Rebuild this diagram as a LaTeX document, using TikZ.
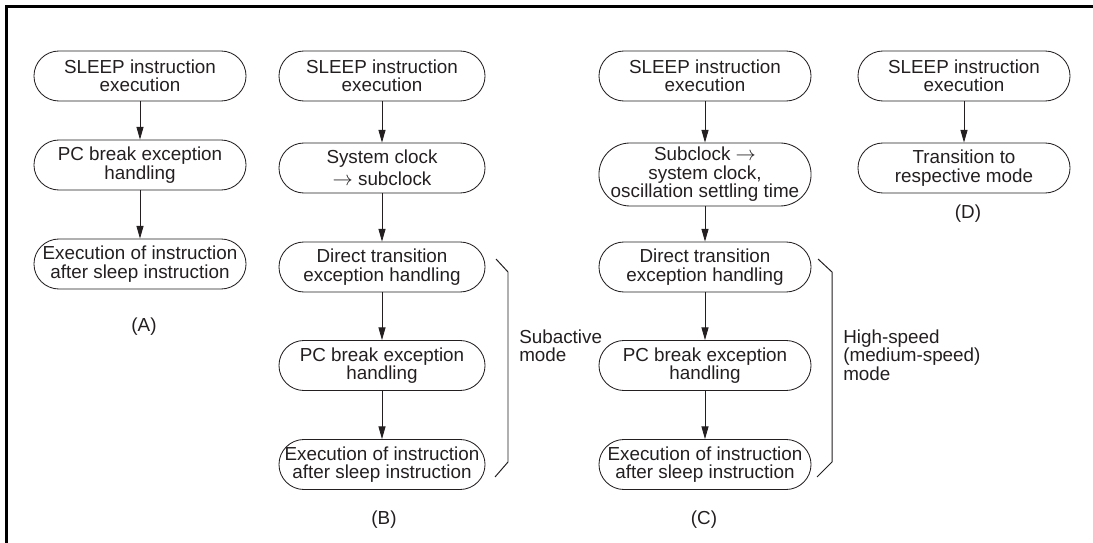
\documentclass[tikz,border=0pt]{standalone}
\usepackage{fontspec}
\setmainfont{Liberation Sans}
\usetikzlibrary{arrows.meta}
\usepackage{xcolor}
\definecolor{cInk}{HTML}{231F20}
\newcommand{\boxfont}{\fontsize{13.4}{13.1}\selectfont}
\tikzset{
  stage/.style={
    draw=cInk, line width=0.6pt, rounded corners=0.625cm,
    minimum width=5.3cm, minimum height=1.25cm,
    font=\boxfont, text=cInk, inner sep=0pt,
    align=center,
  },
  tallstage/.style={
    stage, rounded corners=0.78cm, minimum height=1.575cm,
  },
  modelabel/.style={
    font=\boxfont, text=cInk, align=left, anchor=west, inner sep=0pt,
  },
  caselabel/.style={font=\boxfont, text=cInk, inner sep=0pt},
  arw/.style={-{Triangle[length=9pt, width=5pt]}, line width=0.6pt, color=#1},
  arw/.default=cInk,
  bracketline/.style={draw=cInk, line width=0.7pt},
  frameline/.style={draw=black, line width=2.2pt},
}

\begin{document}
\begin{tikzpicture}[x=0.025cm, y=-0.025cm]

  \useasboundingbox (0,0) rectangle (1093,543);

  % frame
  \draw[frameline] (1093,6.5) -- (6.5,6.5) -- (6.5,543);

  % (A) PC break
  \node[stage] (a1) at (140,76) {SLEEP instruction\\execution};
  \node[stage] (a2) at (140,165) {PC break exception\\handling};
  \node[stage] (a3) at (140,264) {Execution of instruction\\after sleep instruction};
  \node[caselabel] (labA) at (144,327) {(A)};

  \draw[arw] (a1) -- (a2);
  \draw[arw] (a2) -- (a3);

  % (B) to subactive mode
  \node[stage, minimum width=5.15cm] (b1) at (382,76) {SLEEP instruction\\execution};
  \node[stage, minimum width=5.15cm] (b2) at (382,168) {System clock\\[2.5pt]$\rightarrow$ subclock};
  \node[stage, minimum width=5.15cm] (b3) at (382,267) {Direct transition\\exception handling};
  \node[stage, minimum width=5.15cm] (b4) at (382,365.5) {PC break exception\\handling};
  \node[stage, minimum width=5.15cm] (b5) at (382,464.5) {Execution of instruction\\after sleep instruction};
  \node[caselabel] (labB) at (384,520) {(B)};

  \draw[arw] (b1) -- (b2);
  \draw[arw] (b2) -- (b3);
  \draw[arw] (b3) -- (b4);
  \draw[arw] (b4) -- (b5);

  \draw[bracketline] (496,259) -- (508,272) -- (508,462) -- (495,477);
  \node[modelabel] (subB) at (519,346) {Subactive\\mode};

  % (C) to high-speed mode
  \node[stage] (c1) at (705,76) {SLEEP instruction\\execution};
  \node[tallstage] (c2) at (705,174.5) {Subclock $\rightarrow$\\system clock,\\oscillation settling time};
  \node[stage] (c3) at (705,267) {Direct transition\\exception handling};
  \node[stage] (c4) at (705,365.5) {PC break exception\\handling};
  \node[stage] (c5) at (705,464.5) {Execution of instruction\\after sleep instruction};
  \node[caselabel] (labC) at (704,520) {(C)};

  \draw[arw] (c1) -- (c2);
  \draw[arw] (c2) -- (c3);
  \draw[arw] (c3) -- (c4);
  \draw[arw] (c4) -- (c5);

  \draw[bracketline] (818,259) -- (832,272) -- (832,462) -- (817,477);
  \node[modelabel] (highC) at (843,355) {High-speed\\(medium-speed)\\mode};

  % (D) no interrupt
  \node[stage] (d1) at (964,76) {SLEEP instruction\\execution};
  \node[stage] (d2) at (964,168) {Transition to\\respective mode};
  \node[caselabel] (labD) at (968,214) {(D)};

  \draw[arw] (d1) -- (d2);

\end{tikzpicture}
\end{document}
